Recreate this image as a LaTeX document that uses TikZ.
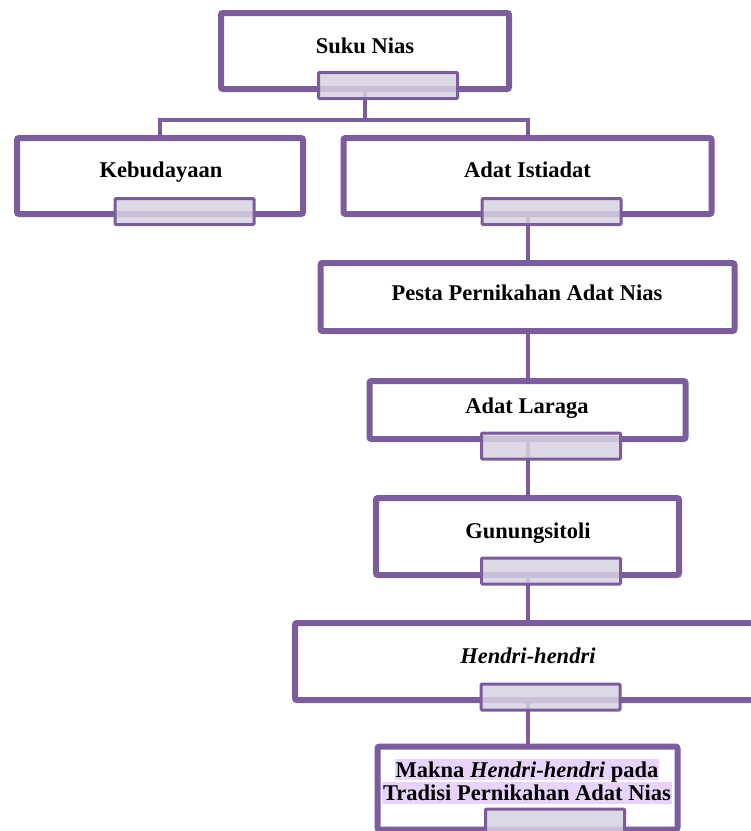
\documentclass[tikz,border=0pt]{standalone}
\usepackage{fontspec}
\setmainfont{Liberation Serif}
\usetikzlibrary{shadows}

\definecolor{ungu}{RGB}{122,93,154}
\definecolor{laci}{RGB}{216,210,226}
\definecolor{sorot}{RGB}{232,212,250}

\begin{document}
\begin{tikzpicture}[x=1pt,y=-1pt,
	kotak/.style={draw=ungu,line width=6pt,fill=white,rounded corners=2pt,inner sep=0pt,
		drop shadow={opacity=0.3,shadow xshift=1pt,shadow yshift=-2.5pt}},
	lacibox/.style={draw=ungu,line width=3pt,fill=laci,fill opacity=0.85,draw opacity=1,
		rounded corners=1pt,inner sep=0pt,minimum width=139pt,minimum height=26pt},
	judul/.style={font=\fontsize{22.5}{23}\selectfont\bfseries,anchor=base,inner sep=0pt},
	garis/.style={draw=ungu,line width=4pt}]
						\useasboundingbox (0,0) rectangle (751,831);
						\clip (0,0) rectangle (751,831);
						
						% kotak-kotak
						\node[kotak,minimum width=288pt,minimum height=76pt] (suku) at (365,51) {};
						\node[kotak,minimum width=286pt,minimum height=76pt] (budaya) at (160,176) {};
						\node[kotak,minimum width=368pt,minimum height=76pt] (adat) at (527.5,176) {};
						\node[kotak,minimum width=414pt,minimum height=68pt] (pesta) at (527.5,297) {};
						\node[kotak,minimum width=316pt,minimum height=58pt] (laraga) at (527.5,410) {};
						\node[kotak,minimum width=303pt,minimum height=77pt] (gusit) at (527.5,536.5) {};
						\node[kotak,minimum width=465pt,minimum height=77pt] (hendri) at (527.5,661.5) {};
						\node[kotak,minimum width=300pt,minimum height=83pt] (makna) at (527.5,788) {};
						
						% garis penghubung
						\coordinate (cabang) at (365,120);
						\draw[garis] (suku.south) -- (cabang);
						\draw[garis] (budaya.north) |- (cabang) -| (adat.north);
						\draw[garis] (adat.south) -- (pesta.north);
						\draw[garis] (pesta.south) -- (laraga.north);
						\draw[garis] (laraga.south) -- (gusit.north);
						\draw[garis] (gusit.south) -- (hendri.north);
						\draw[garis] (hendri.south) -- (makna.north);
						
						% laci di bawah kotak
						\node[lacibox] (suku-t) at (388,85.5) {};
						\node[lacibox] (budaya-t) at (184.5,211.5) {};
						\node[lacibox] (adat-t) at (551.5,211.5) {};
						\node[lacibox] (laraga-t) at (551,446) {};
						\node[lacibox] (gusit-t) at (551,571) {};
						\node[lacibox] (hendri-t) at (550.5,697) {};
						\node[lacibox,minimum height=30pt] (makna-t) at (555,824) {};
						%\node[lacibox] (pesta-t) at (551,331) {};
						
						% teks
						\node[judul] (suku-l) at (365,53) {Suku Nias};
						\node[judul] (budaya-l) at (161,177.5) {Kebudayaan};
						\node[judul] (adat-l) at (527.5,177.5) {Adat Istiadat};
						\node[judul] (pesta-l) at (527,300.5) {Pesta Pernikahan Adat Nias};
						\node[judul] (laraga-l) at (527,413) {Adat Laraga};
						\node[judul] (gusit-l) at (528,538) {Gunungsitoli};
						\node[judul] (hendri-l) at (528,663) {\textit{Hendri-hendri}};
						\node[judul,fill=sorot,text height=18pt,text depth=3pt,inner xsep=1pt] (makna-l1) at (527,777) {Makna \textit{Hendri-hendri} pada};
						\node[judul,fill=sorot,text height=18pt,text depth=4pt,inner xsep=1pt] (makna-l2) at (527,800) {Tradisi Pernikahan Adat Nias};
					\end{tikzpicture}
\end{document}
